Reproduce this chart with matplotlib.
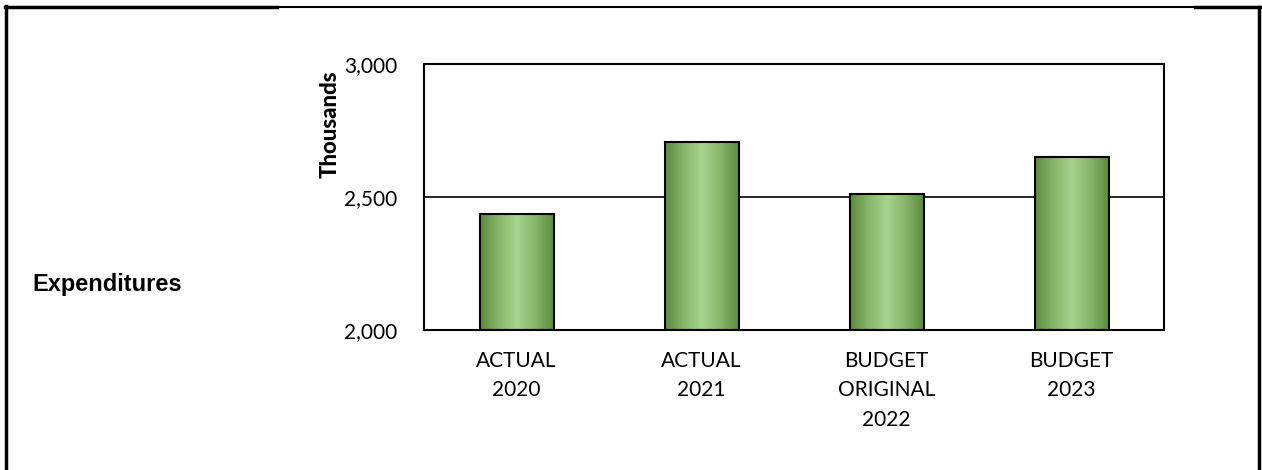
import numpy as np
import matplotlib
matplotlib.use("Agg")
import matplotlib.pyplot as plt
from matplotlib.lines import Line2D
from matplotlib.colors import LinearSegmentedColormap

categories = ["ACTUAL\n2020", "ACTUAL\n2021", "BUDGET\nORIGINAL\n2022", "BUDGET\n2023"]
values = [2436, 2707, 2511, 2650]
yticks = [2000, 2500, 3000]
ytick_labels = ["2,000", "2,500", "3,000"]

W, H = 1262, 470
fig = plt.figure(figsize=(W / 100, H / 100), dpi=100)

def fx(px):
    return px / W

def fy(py):
    return 1 - py / H

ax = fig.add_axes([fx(424), fy(330), fx(1164) - fx(424), fy(64) - fy(330)])
x = np.arange(len(categories))
bars = ax.bar(x, [v - 2000 for v in values], bottom=2000, width=0.4,
              color="none", edgecolor="black", linewidth=1.5, zorder=3)

cmap = LinearSegmentedColormap.from_list(
    "g", ["#5b8a3b", "#86b66a", "#a9d38e", "#86b66a", "#5b8a3b"])
grad = np.linspace(0, 1, 256).reshape(1, -1)
for b in bars:
    x0, y0 = b.get_x(), b.get_y()
    w, h = b.get_width(), b.get_height()
    im = ax.imshow(grad, cmap=cmap, aspect="auto", extent=[x0, x0 + w, y0, y0 + h],
                   zorder=2, interpolation="bicubic")
    im.set_clip_path(b)

ax.set_xlim(-0.5, len(categories) - 0.5)
ax.set_ylim(2000, 3000)
ax.set_yticks(yticks)
ax.set_yticklabels(ytick_labels)
ax.set_xticks(x)
ax.set_xticklabels(categories, linespacing=1.6)
ax.tick_params(axis="both", length=0, labelsize=15)
ax.tick_params(axis="y", pad=19)
ax.tick_params(axis="x", pad=15)
for lab in ax.get_xticklabels() + ax.get_yticklabels():
    lab.set_fontfamily("Lato")
ax.grid(axis="y", color="black", linewidth=1.2, zorder=1)
ax.set_axisbelow(True)
for s in ax.spines.values():
    s.set_linewidth(1.5)
    s.set_color("black")

fig.text(fx(330), fy(124), "Thousands", rotation=90, ha="center", va="center",
         fontsize=16, fontweight="black", fontfamily="Lato")
fig.text(fx(32), fy(285), "Expenditures", ha="left", va="center",
         fontsize=17, fontweight="bold", fontfamily="Liberation Sans")

# figure border
fig.add_artist(Line2D([fx(6), fx(6)], [fy(6), 0], color="black", linewidth=2.5))
fig.add_artist(Line2D([fx(5), fx(277)], [fy(7), fy(7)], color="black", linewidth=2.5))
fig.add_artist(Line2D([fx(277), fx(1195)], [fy(6.5), fy(6.5)], color="black", linewidth=1.5))
fig.add_artist(Line2D([fx(1195), fx(1260)], [fy(7), fy(7)], color="black", linewidth=2.5))
fig.add_artist(Line2D([fx(1259), fx(1259)], [fy(7), 0], color="black", linewidth=2.5))

fig.savefig("out.png", dpi=100, facecolor="white")
